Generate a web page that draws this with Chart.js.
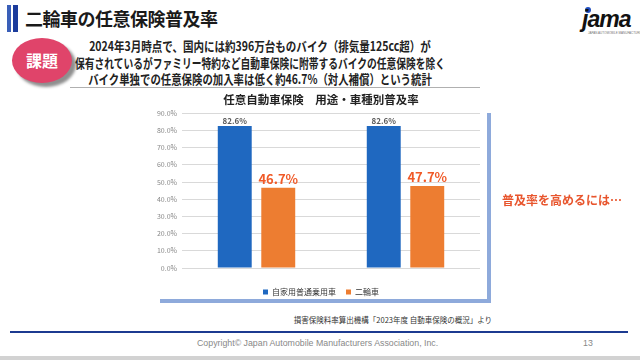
<!DOCTYPE html>
<html><head><meta charset="utf-8">
<script src="https://cdn.jsdelivr.net/npm/chart.js@4/dist/chart.umd.min.js"></script>
<style>
html,body{margin:0;padding:0;background:#fff;}
body{width:640px;height:360px;position:relative;overflow:hidden;font-family:"Noto Sans CJK JP","Noto Sans",sans-serif;}
.abs{position:absolute;}
.line{position:absolute;left:260px;white-space:nowrap;font-weight:bold;font-size:13px;color:#222;}
</style></head>
<body>
<div class="abs" style="left:7px;top:5px;width:4px;height:27px;background:#3a5fb8;"></div>
<div class="abs" style="left:13px;top:5px;width:5px;height:27px;background:#1c3c9c;"></div>
<div class="abs" style="left:25px;top:5px;font-size:18px;font-weight:bold;color:#1a1a1a;letter-spacing:-0.5px;white-space:nowrap;">二輪車の任意保険普及率</div>

<div class="abs" style="left:585px;top:7px;width:6px;height:6px;border-radius:50%;background:#1f4fc0;"></div>
<div class="abs" style="left:582px;top:6px;font-family:'Liberation Sans';font-style:italic;font-weight:bold;font-size:23px;letter-spacing:-1px;color:#111;">jama</div>
<div class="abs" style="left:588px;top:31px;font-family:'Liberation Sans';font-size:3px;color:#777;white-space:nowrap;">JAPAN AUTOMOBILE MANUFACTURERS ASSOCIATION</div>

<div class="abs" style="left:12px;top:38px;width:60px;height:45px;border-radius:50%;background:#e0446a;box-shadow:4px 4px 3px #8f8f8f;"></div>
<div class="abs" style="left:12px;top:38px;width:60px;height:45px;line-height:45px;text-align:center;color:#fff;font-weight:bold;font-size:16px;">課題</div>

<div class="line" style="top:45px;transform:translate(-50%,-50%) scaleX(0.81);">2024年3月時点で、国内には約396万台ものバイク（排気量125cc超）が</div>
<div class="line" style="top:62px;transform:translate(-50%,-50%) scaleX(0.75);">保有されているがファミリー特約など自動車保険に附帯するバイクの任意保険を除く</div>
<div class="line" style="top:78px;transform:translate(-50%,-50%) scaleX(0.80);">バイク単独での任意保険の加入率は低く約46.7%（対人補償）という統計</div>
<div class="abs" style="left:70px;top:87px;width:410px;height:1px;background:#b0b0b0;"></div>

<div class="abs" style="left:160px;top:299px;width:331px;height:4px;background:#8eaadb;"></div>
<div class="abs" style="left:487px;top:113px;width:4px;height:190px;background:#8eaadb;"></div>

<div class="abs" style="left:130px;top:90px;width:382px;height:216px;">
<canvas id="c" width="382" height="216"></canvas>
</div>

<div class="abs" style="left:502px;top:191px;font-size:12px;font-weight:bold;color:#e8552d;white-space:nowrap;">普及率を高めるには…</div>

<div class="abs" style="right:148px;top:314px;font-size:7.5px;color:#333;white-space:nowrap;">損害保険料率算出機構「2023年度 自動車保険の概況」より</div>
<div class="abs" style="left:10px;top:331px;width:618px;height:2px;background:#1c3a90;"></div>
<div class="abs" style="left:197px;top:338px;font-family:'Liberation Sans';font-size:8.8px;color:#888;white-space:nowrap;">Copyright© Japan Automobile Manufacturers Association, Inc.</div>
<div class="abs" style="left:583px;top:338px;font-family:'Liberation Sans';font-size:8.8px;color:#888;">13</div>
<div class="abs" style="left:0;top:356px;width:640px;height:4px;background:#d2d2d2;"></div>

<script>
const categories = ["対人補償", "対物補償"];
const seriesNames = ["自家用普通乗用車", "二輪車"];
const carValues = [82.6, 82.6];
const bikeValues = [46.7, 47.7];
const yTicks = [0, 10, 20, 30, 40, 50, 60, 70, 80, 90];

const FONT = '"Noto Sans CJK JP","Noto Sans",sans-serif';
const labelStyles = [
  {font: 'bold 8px ' + FONT, color: '#595959', offset: 1},
  {font: 'bold 13px ' + FONT, color: '#f05a28', offset: 2}
];

const valueLabels = {
  id: 'valueLabels',
  afterDatasetsDraw(chart) {
    const ctx = chart.ctx;
    chart.data.datasets.forEach((ds, i) => {
      const meta = chart.getDatasetMeta(i);
      const st = labelStyles[i];
      meta.data.forEach((bar, j) => {
        ctx.save();
        ctx.font = st.font;
        ctx.fillStyle = st.color;
        ctx.textAlign = 'center';
        ctx.textBaseline = 'bottom';
        ctx.fillText(ds.data[j].toFixed(1) + '%', bar.x, bar.y - st.offset);
        ctx.restore();
      });
    });
  }
};

new Chart(document.getElementById('c'), {
  type: 'bar',
  data: {
    labels: categories,
    datasets: [
      {label: seriesNames[0], data: carValues, backgroundColor: '#1f68c0', yAxisID: 'y'},
      {label: seriesNames[1], data: bikeValues, backgroundColor: '#ed7d31', yAxisID: 'y'}
    ]
  },
  options: {
    responsive: false,
    animation: false,
    devicePixelRatio: 1,
    layout: {padding: 0},
    datasets: {bar: {categoryPercentage: 0.584, barPercentage: 0.78}},
    plugins: {
      title: {display: true, text: '任意自動車保険　用途・車種別普及率', color: '#222',
        font: {family: FONT, size: 11.5, weight: 'bold'}, padding: {top: 3, bottom: 6.4}},
      legend: {display: true, position: 'bottom',
        labels: {boxWidth: 5, boxHeight: 5, padding: 10, color: '#333', font: {family: FONT, size: 8}}},
      tooltip: {enabled: false}
    },
    scales: {
      x: {
        grid: {display: false},
        border: {display: false},
        ticks: {color: '#333', font: {family: FONT, size: 7}, padding: 5},
        afterFit(s) { s.height = 10; }
      },
      y: {
        min: 0, max: 90,
        afterBuildTicks(s) { s.ticks = yTicks.map(v => ({value: v})); },
        grid: {color: '#d9d9d9', drawTicks: false},
        border: {display: false},
        ticks: {color: '#888', font: {family: FONT, size: 7}, padding: 5,
          callback: v => v.toFixed(1) + '%'},
        afterFit(s) { s.width = 52; }
      },
      y2: {
        position: 'right',
        display: true,
        grid: {display: false, drawTicks: false},
        border: {display: false},
        ticks: {display: false},
        afterFit(s) { s.width = 32; }
      }
    }
  },
  plugins: [valueLabels]
});
</script>
</body></html>
